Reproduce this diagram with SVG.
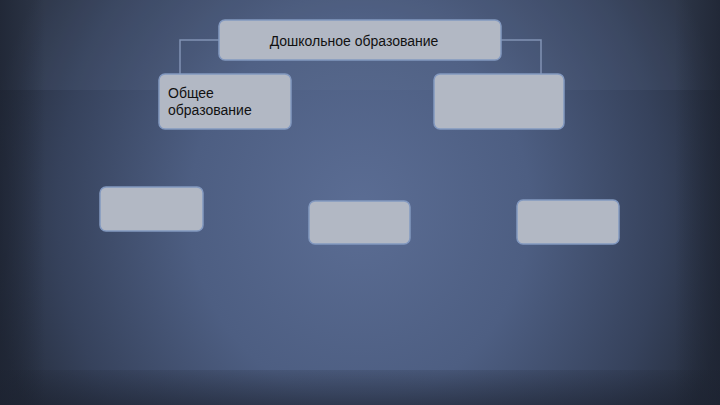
<svg xmlns="http://www.w3.org/2000/svg" width="720" height="405" viewBox="0 0 720 405">
<defs>
<radialGradient id="bg" cx="360" cy="210" r="420" gradientUnits="userSpaceOnUse" gradientTransform="translate(360 210) scale(0.9 1) translate(-360 -210)">
<stop offset="0" stop-color="#5b6d94"/>
<stop offset="0.45" stop-color="#4d5e82"/>
<stop offset="0.8" stop-color="#36425c"/>
<stop offset="1" stop-color="#262e3e"/>
</radialGradient>
<linearGradient id="lside" x1="0" x2="1" y1="0" y2="0">
<stop offset="0" stop-color="#1c2230" stop-opacity="0.7"/>
<stop offset="1" stop-color="#1c2230" stop-opacity="0"/>
</linearGradient>
<linearGradient id="rside" x1="1" x2="0" y1="0" y2="0">
<stop offset="0" stop-color="#1c2230" stop-opacity="0.7"/>
<stop offset="1" stop-color="#1c2230" stop-opacity="0"/>
</linearGradient>
<linearGradient id="bot" x1="0" x2="0" y1="0" y2="1">
<stop offset="0" stop-color="#1c2230" stop-opacity="0.15"/>
<stop offset="1" stop-color="#1c2230" stop-opacity="0.6"/>
</linearGradient>
</defs>
<style>
.box{fill:#b2b8c4;stroke:#8399c0;stroke-width:1.5}
.conn{fill:none;stroke:#8193b4;stroke-width:1.5}
.t{font-family:"Liberation Sans",Arial,sans-serif;font-size:14px;fill:#111}
</style>
<rect width="720" height="405" fill="url(#bg)"/>
<rect x="0" y="0" width="720" height="90" fill="#6a7ba0" opacity="0.12"/>
<rect x="0" y="0" width="45" height="405" fill="url(#lside)"/>
<rect x="675" y="0" width="45" height="405" fill="url(#rside)"/>
<rect x="0" y="370" width="720" height="35" fill="url(#bot)"/>
<g id="connectors">
<path class="conn" d="M219 40 H180 V74"/>
<path class="conn" d="M501 40 H541 V74"/>
</g>
<g id="n-top">
<rect class="box" x="219" y="20" width="282" height="40" rx="6"/>
<text class="t" x="354" y="46" text-anchor="middle">Дошкольное образование</text>
</g>
<g id="n-general">
<rect class="box" x="159" y="74" width="132" height="55" rx="6"/>
<text class="t" x="168" y="98">Общее</text>
<text class="t" x="168" y="115">образование</text>
</g>
<g id="n-right">
<rect class="box" x="434" y="74" width="130" height="55" rx="6"/>
</g>
<g id="n-b1">
<rect class="box" x="100" y="187" width="103" height="44" rx="6"/>
</g>
<g id="n-b2">
<rect class="box" x="309" y="201" width="101" height="43" rx="6"/>
</g>
<g id="n-b3">
<rect class="box" x="517" y="200" width="102" height="44" rx="6"/>
</g>
</svg>
